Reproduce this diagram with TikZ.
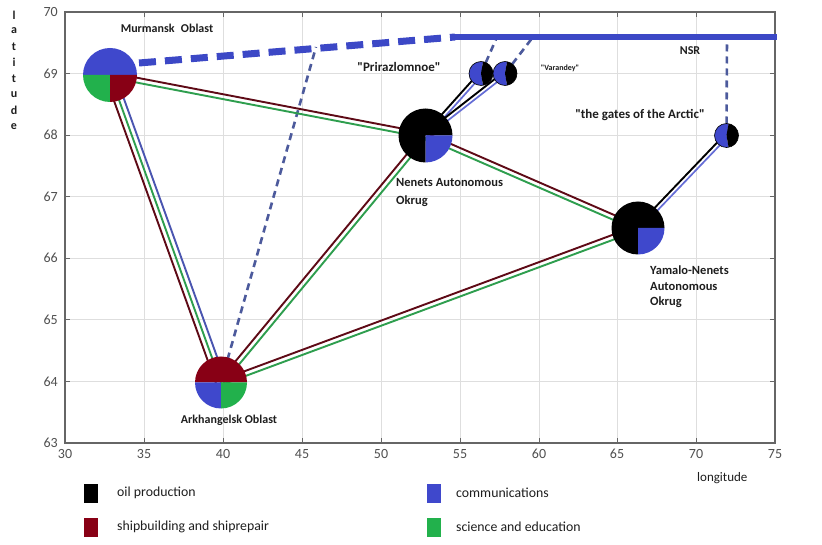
\documentclass[tikz,border=0pt]{standalone}
\usepackage{fontspec}
\setmainfont{Carlito}[Ligatures=TeXOff]
\usetikzlibrary{calc}
\definecolor{pblue}{HTML}{3F48CC}
\definecolor{pred}{HTML}{880015}
\definecolor{pgreen}{HTML}{22B14C}
\definecolor{lred}{HTML}{5E0A16}
\definecolor{lgreen}{HTML}{2E9E4E}
\definecolor{lblue}{HTML}{4A55B0}
\definecolor{dashblue}{HTML}{3C48C6}
\definecolor{thinblue}{HTML}{4C5A9C}
\definecolor{gridc}{HTML}{DEDEDE}
\definecolor{axisc}{HTML}{666666}
\definecolor{tickc}{HTML}{505050}
\definecolor{txt}{HTML}{1E1E1E}
\newcommand\myconn[6]{\draw[#1] ($(#2)!#4!#5:(#3)$) -- ($(#3)!#4!#6:(#2)$);}
\newcommand\myslice[5]{\fill[#5] (#1) -- ++(#2:#4) arc[start angle=#2, end angle=#3, radius=#4] -- cycle;}
\begin{document}
\begin{tikzpicture}[x=1pt,y=1pt,
  redline/.style={draw=lred, line width=1.9pt},
  greenline/.style={draw=lgreen, line width=1.9pt},
  blueline/.style={draw=lblue, line width=1.9pt},
  blackline/.style={draw=black, line width=1.9pt},
  sblueline/.style={draw=pblue!80!white, line width=1.7pt},
  thindash/.style={draw=thinblue, line width=2.6pt, dash pattern=on 7pt off 5pt},
  ticklab/.style={text=tickc, font=\fontsize{14}{16}\selectfont, inner sep=1pt},
  lab/.style={text=txt, font=\bfseries\fontsize{12}{14}\selectfont, inner sep=1pt},
  leglab/.style={text=txt, font=\fontsize{13.8}{15}\selectfont, anchor=west, inner sep=1pt},
  legbox/.style={minimum width=14pt, minimum height=19pt, inner sep=0pt, draw=none}]
\useasboundingbox (0,0) rectangle (822,544);
\fill[white] (0,0) rectangle (822,544);
% grid
\foreach \x in {144,223,302,381,460,539,617,696}
  \draw[gridc, line width=0.8pt] (\x,101) -- (\x,532);
\foreach \y in {162.6,224.1,285.7,347.3,408.9,470.4}
  \draw[gridc, line width=0.8pt] (65,\y) -- (775,\y);
% ticks
\foreach \x in {144,223,302,381,460,539,617,696} {
  \draw[axisc, line width=0.8pt] (\x,101) -- ++(0,5);
  \draw[axisc, line width=0.8pt] (\x,532) -- ++(0,-5);}
\foreach \y in {162.6,224.1,285.7,347.3,408.9,470.4} {
  \draw[axisc, line width=0.8pt] (65,\y) -- ++(5,0);
  \draw[axisc, line width=0.8pt] (775,\y) -- ++(-5,0);}
\draw[axisc, line width=1.2pt] (65,101) rectangle (775,532);
% tick labels
\foreach \x/\l in {65/30,144/35,223/40,302/45,381/50,460/55,539/60,617/65,696/70,775/75}
  \node[ticklab, anchor=north] (xl\l) at (\x,96) {\l};
\foreach \y/\l in {101/63,162.6/64,224.1/65,285.7/66,347.3/67,408.9/68,470.4/69,532/70}
  \node[ticklab, anchor=east] (yl\l) at (59,\y) {\l};
% axis titles
\foreach \c [count=\i] in {l,a,t,i,t,u,d,e}
  \node[text=txt, font=\bfseries\fontsize{12}{12}\selectfont, inner sep=0pt] (lat\i) at (14,{529-(\i-1)*15.9}) {\c};
\node[leglab, font=\fontsize{13}{14}\selectfont] (lonL) at (696,66) {longitude};
% centres
\coordinate (mur) at (110,469);
\coordinate (ark) at (221,161.5);
\coordinate (nen) at (425.5,408.5);
\coordinate (yam) at (638,316);
\coordinate (prir) at (481,470.5);
\coordinate (var) at (505,470.5);
\coordinate (gate) at (726.5,408.5);
\coordinate (murE) at (139,481);
\coordinate (nsrW) at (455,507);
\coordinate (nsrE) at (777,507);
\coordinate (arkTop) at (316,497);
\coordinate (prirTop) at (497,507);
\coordinate (varTop) at (533,507);
\coordinate (gateTop) at (727,507);
% dashed links to NSR
\draw[thindash] (ark) -- (arkTop);
\draw[thindash] (prir) -- (prirTop);
\draw[thindash] (var) -- (varTop);
\draw[thindash] (gate) -- (gateTop);
\draw[dashblue, line width=7pt, dash pattern=on 17pt off 9pt] (murE) -- (nsrW);
\draw[dashblue, line width=6pt] (nsrW) -- (nsrE);
% double / triple connectors
\myconn{redline}{mur}{ark}{5pt}{-90}{90}
\draw[greenline] (mur) -- (ark);
\myconn{blueline}{mur}{ark}{5pt}{90}{-90}
\myconn{redline}{mur}{nen}{2.4pt}{90}{-90}
\myconn{greenline}{mur}{nen}{2.4pt}{-90}{90}
\myconn{redline}{ark}{nen}{2.4pt}{90}{-90}
\myconn{greenline}{ark}{nen}{2.4pt}{-90}{90}
\myconn{redline}{ark}{yam}{2.4pt}{90}{-90}
\myconn{greenline}{ark}{yam}{2.4pt}{-90}{90}
\myconn{redline}{nen}{yam}{2.4pt}{90}{-90}
\myconn{greenline}{nen}{yam}{2.4pt}{-90}{90}
\myconn{blackline}{nen}{prir}{1.9pt}{90}{-90}
\myconn{sblueline}{nen}{prir}{1.9pt}{-90}{90}
\myconn{blackline}{nen}{var}{1.9pt}{90}{-90}
\myconn{sblueline}{nen}{var}{1.9pt}{-90}{90}
\myconn{blackline}{yam}{gate}{1.9pt}{90}{-90}
\myconn{sblueline}{yam}{gate}{1.9pt}{-90}{90}
% pies
\myslice{mur}{0}{180}{27}{pblue}
\myslice{mur}{180}{270}{27}{pgreen}
\myslice{mur}{270}{360}{27}{pred}
\myslice{ark}{0}{180}{26}{pred}
\myslice{ark}{180}{270}{26}{pblue}
\myslice{ark}{270}{360}{26}{pgreen}
\myslice{nen}{0}{270}{27}{black}
\myslice{nen}{270}{360}{27}{pblue}
\myslice{yam}{0}{270}{26.5}{black}
\myslice{yam}{270}{360}{26.5}{pblue}
\foreach \p in {prir,var,gate} {
  \myslice{\p}{80}{280}{12}{pblue}
  \myslice{\p}{-80}{80}{12}{black}
  \draw[black, line width=0.6pt] (\p) circle[radius=12];}
% labels
\node[lab] (murL) at (167,516) {Murmansk\hspace{0.3em} Oblast};
\node[lab, font=\bfseries\fontsize{13}{15}\selectfont] (prirL) at (399,477) {"Prirazlomnoe"};
\node[lab, font=\bfseries\fontsize{8}{10}\selectfont] (varL) at (560,476) {"Varandey"};
\node[lab] (nsrL) at (690,493) {NSR};
\node[lab, font=\bfseries\fontsize{13}{15}\selectfont] (gateL) at (640,429) {"the gates of the Arctic"};
\node[lab, font=\bfseries\fontsize{12.5}{18}\selectfont, align=left, anchor=north west] (nenL) at (395,367) {Nenets Autonomous\\Okrug};
\node[lab, font=\bfseries\fontsize{12.5}{15.5}\selectfont, align=left, anchor=north west] (yamL) at (649,279) {Yamalo-Nenets\\Autonomous\\Okrug};
\node[lab] (arkL) at (229,124) {Arkhangelsk Oblast};
% legend
\node[legbox, fill=black, anchor=south west] (lg1) at (84,41) {};
\node[legbox, fill=pred, anchor=south west] (lg2) at (84,7) {};
\node[legbox, fill=pblue, anchor=south west] (lg3) at (427,41) {};
\node[legbox, fill=pgreen, anchor=south west] (lg4) at (427,7) {};
\node[leglab] (lt1) at (116,51) {oil production};
\node[leglab] (lt2) at (116,17) {shipbuilding and shiprepair};
\node[leglab] (lt3) at (455,51) {communications};
\node[leglab] (lt4) at (455,17) {science and education};
\end{tikzpicture}
\end{document}
